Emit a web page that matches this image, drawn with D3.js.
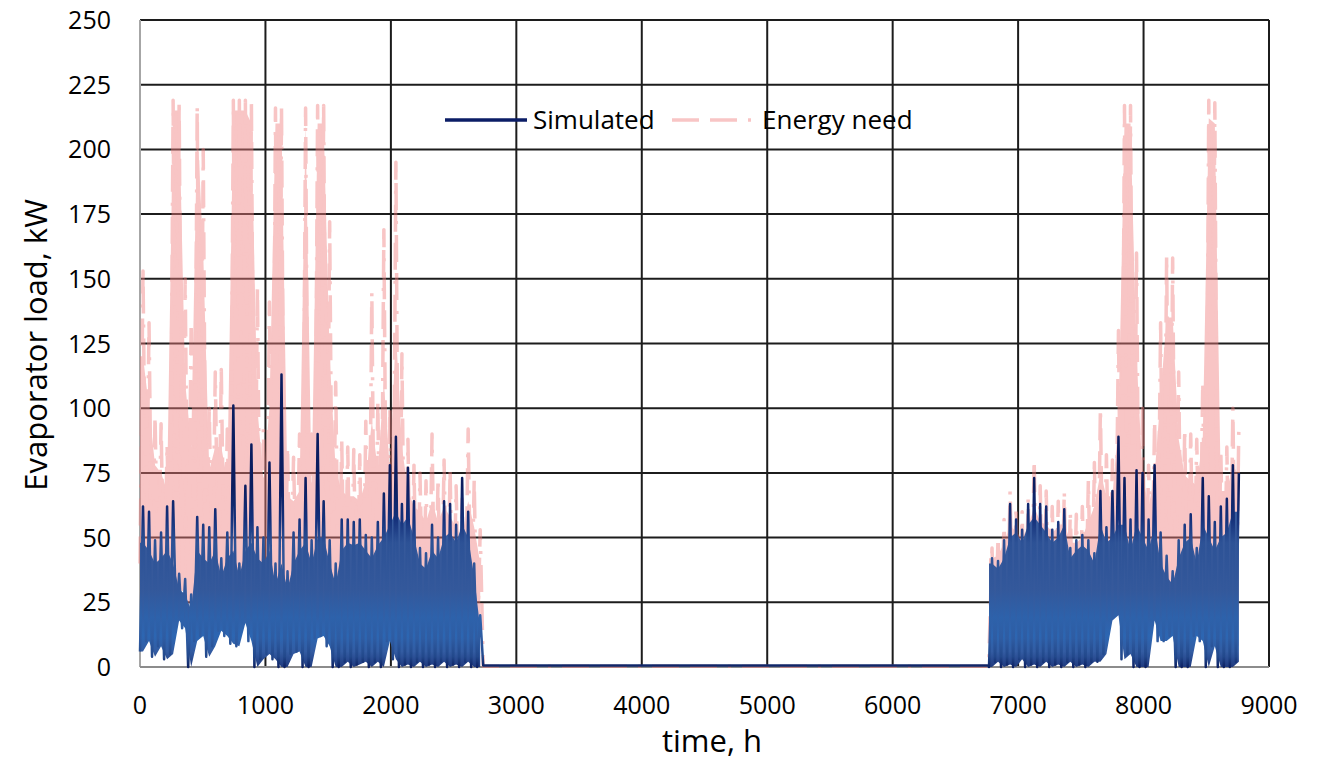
<!DOCTYPE html>
<html>
<head>
<meta charset="utf-8">
<script src="https://cdn.jsdelivr.net/npm/d3@7"></script>
<style>
body { margin: 0; background: #ffffff; }
text { font-family: "Open Sans", sans-serif; fill: #000000; }
</style>
</head>
<body>
<svg id="chart" width="1327" height="761"></svg>
<script>

/* ====================================================================================
 * Data (per 48 h chunk: low, solid body top, spike top)
 * ==================================================================================== */

var xTicks = [0, 1000, 2000, 3000, 4000, 5000, 6000, 7000, 8000, 9000];
var yTicks = [0, 25, 50, 75, 100, 125, 150, 175, 200, 225, 250];
var seriesNames = ["Simulated", "Energy need"];

var chunkHours = 48;

// first heating season, starts at 0 h
var season1Start = 0;
var simMax1 = [62, 60, 49, 52, 62, 64, 36, 34, 28, 58,
               55, 54, 61, 42, 52, 101, 40, 70, 86, 54,
               50, 79, 40, 113, 37, 52, 57, 73, 49, 90,
               64, 49, 40, 57, 57, 56, 57, 51, 50, 56,
               67, 78, 89, 63, 77, 64, 46, 44, 55, 50,
               64, 63, 55, 73, 60, 40, 20];
var simBody1 = [48, 45, 40, 42, 45, 40, 30, 28, 22, 45,
                42, 40, 45, 35, 42, 45, 35, 45, 48, 42,
                40, 45, 32, 40, 30, 40, 45, 48, 40, 50,
                50, 40, 32, 45, 48, 47, 48, 45, 42, 47,
                50, 55, 60, 55, 58, 50, 40, 38, 45, 42,
                50, 52, 48, 55, 50, 35, 15];
var simMin1 = [6, 10, 4, 8, 3, 5, 18, 15, 0, 10,
               12, 4, 8, 14, 12, 9, 8, 17, 10, 0,
               3, 5, 3, 0, 0, 5, 6, 0, 0, 11,
               12, 8, 0, 0, 2, 0, 1, 2, 0, 2,
               0, 10, 3, 0, 1, 0, 2, 0, 1, 0,
               2, 0, 1, 0, 2, 0, 0];
var needMax1 = [153, 133, 97, 94, 86, 219, 219, 150, 133, 217,
                200, 100, 114, 115, 92, 219, 219, 219, 218, 146,
                92, 141, 216, 216, 85, 81, 90, 216, 90, 217,
                217, 172, 110, 88, 85, 84, 82, 95, 145, 102,
                169, 100, 195, 121, 88, 78, 75, 72, 90, 73,
                80, 76, 70, 65, 92, 72, 53];
var needBody1 = [120, 100, 78, 75, 68, 215, 215, 110, 85, 210,
                 160, 76, 85, 85, 72, 215, 215, 215, 210, 100,
                 72, 100, 210, 210, 66, 64, 68, 210, 68, 210,
                 210, 120, 76, 68, 66, 66, 64, 72, 95, 76,
                 110, 76, 130, 85, 68, 62, 60, 56, 64, 56,
                 62, 58, 54, 50, 64, 54, 40];
var needMin1 = [40, 35, 30, 28, 25, 30, 32, 30, 25, 28,
                30, 25, 30, 32, 30, 28, 25, 30, 28, 20,
                22, 25, 22, 20, 20, 25, 28, 22, 25, 30,
                28, 25, 20, 15, 15, 12, 15, 12, 10, 12,
                10, 15, 12, 10, 12, 10, 10, 12, 10, 10,
                12, 10, 10, 12, 10, 10, 5];

// summer, evaporator almost idle
var idleHours = [2736, 6768];
var idleSim = [0.6, 0.6];
var idleNeed = [0.3, 0.3];

// second heating season
var season2Start = 6768;
var simMax2 = [42, 41, 49, 63, 57, 53, 63, 73, 63, 62,
               53, 56, 61, 46, 49, 51, 49, 44, 68, 54,
               68, 89, 73, 57, 76, 75, 57, 78, 52, 43,
               37, 49, 55, 59, 46, 73, 66, 56, 62, 65,
               78, 75];
var simBody2 = [40, 38, 42, 50, 52, 48, 55, 58, 55, 52,
                48, 50, 55, 42, 45, 47, 45, 40, 55, 48,
                50, 55, 55, 45, 55, 50, 45, 55, 40, 35,
                32, 42, 48, 50, 40, 55, 50, 45, 50, 52,
                60, 60];
var simMin2 = [0, 2, 0, 1, 0, 3, 0, 1, 0, 2,
               0, 1, 0, 2, 0, 1, 0, 2, 2, 5,
               18, 20, 3, 5, 0, 0, 0, 18, 10, 10,
               12, 0, 0, 0, 12, 10, 0, 8, 0, 0,
               0, 2];
var needMax2 = [46, 50, 57, 68, 62, 60, 65, 80, 70, 68,
                62, 64, 68, 60, 59, 62, 72, 79, 100, 82,
                80, 130, 217, 217, 160, 100, 78, 95, 133, 159,
                158, 114, 92, 90, 88, 110, 219, 218, 84, 85,
                100, 94];
var needBody2 = [42, 43, 48, 55, 52, 50, 54, 62, 56, 55,
                 52, 54, 56, 48, 48, 50, 56, 62, 75, 66,
                 66, 95, 210, 210, 120, 74, 62, 74, 105, 135,
                 135, 88, 74, 72, 70, 88, 212, 210, 68, 68,
                 78, 74];
var needMin2 = [5, 8, 10, 10, 12, 10, 10, 12, 10, 10,
                12, 10, 10, 12, 10, 10, 12, 10, 15, 15,
                20, 25, 20, 18, 15, 12, 15, 20, 25, 20,
                22, 15, 12, 15, 20, 25, 22, 18, 15, 12,
                10, 8];

/* ====================================================================================
 * Drawing
 * ==================================================================================== */

var svg = d3.select("#chart");
var x = d3.scaleLinear().domain([0, 9000]).range([140, 1269]);
var y = d3.scaleLinear().domain([0, 250]).range([667, 20]);

// spikes: [hour, kW] points, low at chunk start and top at chunk middle
var chunkPoints = function(start, mins, maxs) {
    var pts = [];
    for (var i = 0; i < mins.length; i++) {
        pts.push([start + i * chunkHours, mins[i]]);
        pts.push([start + i * chunkHours + chunkHours / 2, maxs[i]]);
    }
    return pts;
};
// solid mass: [hour, low, top] per chunk middle
var bodyPoints = function(start, mins, body) {
    var pts = [[start, mins[0], body[0]]];
    for (var i = 0; i < mins.length; i++) {
        pts.push([start + i * chunkHours + chunkHours / 2, mins[i], body[i]]);
    }
    return pts;
};
var idlePoints = function(vals) {
    return idleHours.map(function(h, i) { return [h, vals[i]]; });
};

var simData = chunkPoints(season1Start, simMin1, simMax1)
    .concat(idlePoints(idleSim))
    .concat(chunkPoints(season2Start, simMin2, simMax2));
var needData = chunkPoints(season1Start, needMin1, needMax1)
    .concat(idlePoints(idleNeed))
    .concat(chunkPoints(season2Start, needMin2, needMax2));
var simBodies = [bodyPoints(season1Start, simMin1, simBody1), bodyPoints(season2Start, simMin2, simBody2)];
var needBodies = [bodyPoints(season1Start, needMin1, needBody1), bodyPoints(season2Start, needMin2, needBody2)];

var line = d3.line().x(function(d) { return x(d[0]); }).y(function(d) { return y(d[1]); });
var area = d3.area().x(function(d) { return x(d[0]); })
    .y0(function(d) { return y(d[1]); }).y1(function(d) { return y(d[2]); });

var defs = svg.append("defs");
// vertical gradients for the simulated series (navy tips, steel blue body)
var addGradient = function(id, stops) {
    var g = defs.append("linearGradient")
        .attr("id", id).attr("gradientUnits", "userSpaceOnUse")
        .attr("x1", 0).attr("x2", 0).attr("y1", y(70)).attr("y2", y(0));
    stops.forEach(function(s) {
        g.append("stop").attr("offset", (70 - s[0]) / 70).attr("stop-color", s[1]);
    });
};
addGradient("simLineGrad", [[70, "#0b1d5f"], [57, "#15317b"], [48, "#2d5296"], [30, "#33589b"],
    [19, "#2d62ab"], [11, "#2f5ca2"], [4, "#22488b"], [0, "#0d2163"]]);
addGradient("simAreaGrad", [[70, "#36599b"], [30, "#36599b"], [20, "#315fa6"], [12, "#2c66b2"],
    [6, "#335ca2"], [0, "#1f3a7f"]]);

// grid
svg.append("g").selectAll("line").data(yTicks.filter(function(v) { return v > 0; }))
    .enter().append("line")
    .attr("x1", x(0)).attr("x2", x(9000)).attr("y1", y).attr("y2", y)
    .attr("stroke", "#1c1c1c").attr("stroke-width", 2);
svg.append("g").selectAll("line").data(xTicks.filter(function(v) { return v > 0; }))
    .enter().append("line")
    .attr("x1", x).attr("x2", x).attr("y1", y(0)).attr("y2", y(250))
    .attr("stroke", "#1c1c1c").attr("stroke-width", 2);

// axis lines
svg.append("line").attr("x1", x(0)).attr("x2", x(0)).attr("y1", y(0)).attr("y2", y(250))
    .attr("stroke", "#a6a6a6").attr("stroke-width", 2);
svg.append("line").attr("x1", x(0)).attr("x2", x(9000)).attr("y1", y(0)).attr("y2", y(0))
    .attr("stroke", "#8c8c8c").attr("stroke-width", 2);

// energy need (pink, dash dot, see-through), then simulated on top
var pinkDash = "27 11 27 11 3 11";
var needG = svg.append("g").attr("opacity", 0.45);
needG.selectAll("path.body").data(needBodies).enter().append("path")
    .attr("class", "body").attr("d", area).attr("fill", "#f07f7f");
needG.append("path").datum(needData).attr("d", line)
    .attr("fill", "none").attr("stroke", "#f07f7f")
    .attr("stroke-width", 3.5).attr("stroke-dasharray", pinkDash)
    .attr("stroke-linejoin", "round");

svg.selectAll("path.simbody").data(simBodies).enter().append("path")
    .attr("class", "simbody").attr("d", area).attr("fill", "url(#simAreaGrad)");
svg.append("path").datum(simData).attr("d", line)
    .attr("fill", "none").attr("stroke", "url(#simLineGrad)")
    .attr("stroke-width", 2.5).attr("stroke-linejoin", "round");

// tick labels
svg.append("g").selectAll("text").data(yTicks).enter().append("text")
    .attr("x", 111).attr("y", function(d) { return y(d) + 9; })
    .attr("text-anchor", "end").style("font-size", "25px")
    .text(function(d) { return d; });
svg.append("g").selectAll("text").data(xTicks).enter().append("text")
    .attr("x", x).attr("y", 714)
    .attr("text-anchor", "middle").style("font-size", "25px")
    .text(function(d) { return d; });

// axis titles
svg.append("text").attr("transform", "translate(47,345)rotate(-90)")
    .attr("text-anchor", "middle").style("font-size", "31px")
    .text("Evaporator load, kW");
svg.append("text").attr("x", 712).attr("y", 752)
    .attr("text-anchor", "middle").style("font-size", "31px")
    .text("time, h");

// legend
var leg = svg.append("g");
leg.append("line").attr("x1", 445).attr("x2", 527).attr("y1", 120).attr("y2", 120)
    .attr("stroke", "#0b1d66").attr("stroke-width", 3.5);
leg.append("text").attr("x", 533).attr("y", 129).style("font-size", "26px").text(seriesNames[0]);
leg.append("line").attr("x1", 672).attr("x2", 757).attr("y1", 120).attr("y2", 120)
    .attr("stroke", "#f07f7f").attr("stroke-opacity", 0.45)
    .attr("stroke-width", 3.5).attr("stroke-dasharray", pinkDash);
leg.append("text").attr("x", 762).attr("y", 129).style("font-size", "26px").text(seriesNames[1]);

</script>
</body>
</html>
